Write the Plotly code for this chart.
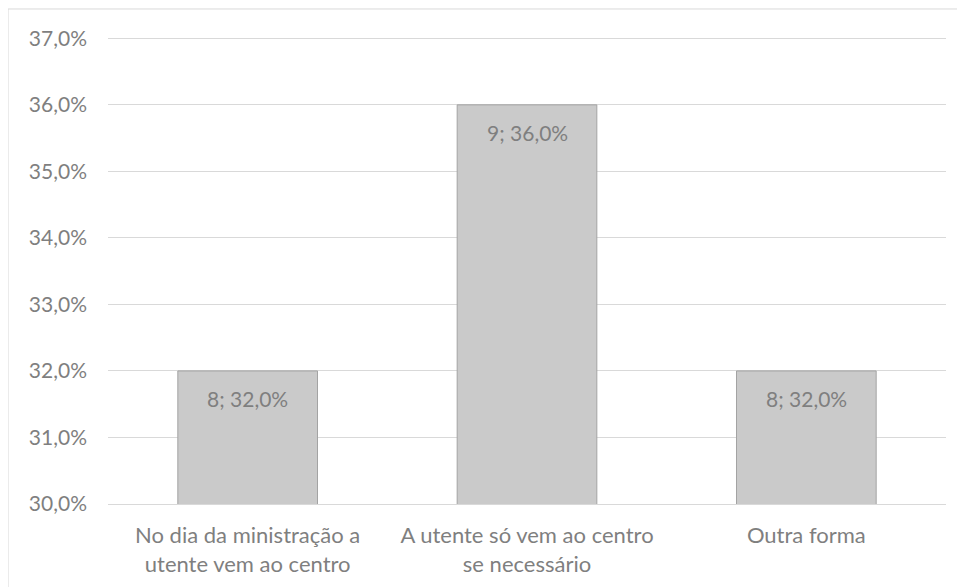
import plotly.graph_objects as go

# Survey answers
categories = [
    "No dia da ministração a<br>utente vem ao centro",
    "A utente só vem ao centro<br>se necessário",
    "Outra forma",
]
counts = [8, 9, 8]
percentages = [32.0, 36.0, 32.0]

y_ticks = [30, 31, 32, 33, 34, 35, 36, 37]

COLORS = {
    "bar": "#cacaca",
    "bar_line": "#a3a3a3",
    "text": "#7f7f7f",
    "grid": "#d9d9d9",
}

FONT = "Lato"
labels = [f"{n}; {p:.1f}%".replace(".", ",") for n, p in zip(counts, percentages)]

fig = go.Figure(
    go.Bar(
        x=categories,
        y=percentages,
        width=0.5,
        marker=dict(color=COLORS["bar"], line=dict(color=COLORS["bar_line"], width=1)),
        hoverinfo="skip",
    )
)

# value labels just below the top of each bar
for cat, pct, lab in zip(categories, percentages, labels):
    fig.add_annotation(
        x=cat,
        y=pct,
        text=lab,
        showarrow=False,
        yanchor="top",
        yshift=-13,
        font=dict(family=FONT, size=21, color=COLORS["text"]),
    )

# the page body adds an 8px offset, so the figure is 8px smaller
fig.update_layout(
    width=957,
    height=579,
    paper_bgcolor="white",
    plot_bgcolor="white",
    margin=dict(l=100, r=19, t=29, b=83),
    font=dict(family=FONT, size=21, color=COLORS["text"]),
    showlegend=False,
    xaxis=dict(
        automargin=False,
        showline=True,
        linecolor=COLORS["grid"],
        linewidth=1,
        ticks="",
        showgrid=False,
        ticklabelstandoff=12,
        tickfont=dict(size=22, color=COLORS["text"]),
    ),
    yaxis=dict(
        automargin=False,
        range=[30, 37.02],
        tickvals=y_ticks,
        ticktext=[f"{v:.1f}%".replace(".", ",") for v in y_ticks],
        showgrid=True,
        gridcolor=COLORS["grid"],
        gridwidth=1,
        zeroline=False,
        showline=False,
        ticks="",
        ticklabelstandoff=20,
        tickfont=dict(size=21, color=COLORS["text"]),
    ),
    shapes=[
        dict(
            type="rect",
            xref="paper",
            yref="paper",
            x0=-0.1193,
            x1=1.2,
            y0=-0.4,
            y1=1.06,
            line=dict(color=COLORS["grid"], width=1),
            fillcolor="rgba(0,0,0,0)",
            layer="below",
        )
    ],
)

fig.write_html("out.html")
